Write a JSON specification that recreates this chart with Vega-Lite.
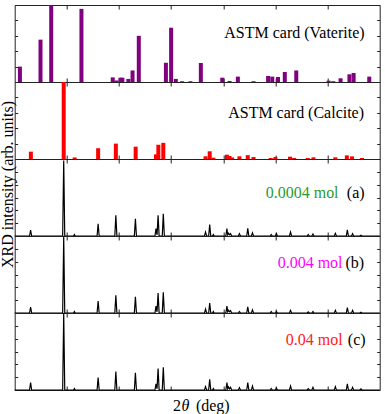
{
  "$schema": "https://vega.github.io/schema/vega-lite/v6.json",
  "background": "white",
  "padding": {"left": -1.3, "top": 1, "right": 0, "bottom": 0},
  "spacing": 0,
  "bounds": "flush",
  "config": {
    "font": "Liberation Serif",
    "view": {"stroke": "#222", "strokeWidth": 1},
    "axis": {"domain": false, "grid": false, "labels": false, "ticks": true, "tickColor": "#222", "tickWidth": 1},
    "axisX": {"tickSize": -4},
    "axisY": {"tickSize": -3},
    "scale": {"continuousPadding": 0},
    "text": {"font": "Liberation Serif"}
  },
  "datasets": {
    "vaterite": [
      {"two_theta": 21.0, "intensity": 20}, {"two_theta": 24.95, "intensity": 55}, {"two_theta": 27.0, "intensity": 100},
      {"two_theta": 32.8, "intensity": 95}, {"two_theta": 38.8, "intensity": 6}, {"two_theta": 39.5, "intensity": 2},
      {"two_theta": 40.3, "intensity": 5.6}, {"two_theta": 40.65, "intensity": 5.6}, {"two_theta": 41.8, "intensity": 4},
      {"two_theta": 42.6, "intensity": 15}, {"two_theta": 43.8, "intensity": 60}, {"two_theta": 49.0, "intensity": 25},
      {"two_theta": 50.0, "intensity": 70.5}, {"two_theta": 50.9, "intensity": 4}, {"two_theta": 52.1, "intensity": 1},
      {"two_theta": 53.7, "intensity": 1}, {"two_theta": 55.7, "intensity": 24.7}, {"two_theta": 59.8, "intensity": 5.6},
      {"two_theta": 61.2, "intensity": 1.3}, {"two_theta": 62.8, "intensity": 7}, {"two_theta": 65.8, "intensity": 1},
      {"two_theta": 68.6, "intensity": 7.8}, {"two_theta": 69.4, "intensity": 7}, {"two_theta": 70.5, "intensity": 6.5},
      {"two_theta": 71.8, "intensity": 13}, {"two_theta": 74.0, "intensity": 15}, {"two_theta": 80.2, "intensity": 1.7},
      {"two_theta": 81.1, "intensity": 1}, {"two_theta": 82.5, "intensity": 4.8}, {"two_theta": 84.2, "intensity": 10},
      {"two_theta": 85.0, "intensity": 11.7}, {"two_theta": 88.0, "intensity": 7}
    ],
    "calcite": [
      {"two_theta": 23.1, "intensity": 9.5}, {"two_theta": 29.4, "intensity": 100}, {"two_theta": 31.5, "intensity": 2},
      {"two_theta": 36.0, "intensity": 14}, {"two_theta": 39.4, "intensity": 20}, {"two_theta": 43.2, "intensity": 16},
      {"two_theta": 47.1, "intensity": 6}, {"two_theta": 47.55, "intensity": 18.5}, {"two_theta": 48.5, "intensity": 21},
      {"two_theta": 56.6, "intensity": 3.5}, {"two_theta": 57.4, "intensity": 10}, {"two_theta": 58.1, "intensity": 1.7},
      {"two_theta": 60.7, "intensity": 5.6}, {"two_theta": 61.2, "intensity": 3.9}, {"two_theta": 61.7, "intensity": 2},
      {"two_theta": 63.1, "intensity": 3.5}, {"two_theta": 64.7, "intensity": 5}, {"two_theta": 65.8, "intensity": 2.6},
      {"two_theta": 69.1, "intensity": 1.3}, {"two_theta": 70.0, "intensity": 2.6}, {"two_theta": 72.8, "intensity": 3},
      {"two_theta": 73.6, "intensity": 1.3}, {"two_theta": 76.2, "intensity": 1.3}, {"two_theta": 77.3, "intensity": 2.2},
      {"two_theta": 81.5, "intensity": 2.2}, {"two_theta": 83.7, "intensity": 4.7}, {"two_theta": 84.7, "intensity": 3.4},
      {"two_theta": 86.6, "intensity": 1.3}
    ],
    "sample_a": [
      {"two_theta": 20, "intensity": 0},
      {"two_theta": 22.85, "intensity": 0}, {"two_theta": 23.05, "intensity": 7.8}, {"two_theta": 23.25, "intensity": 0},
      {"two_theta": 29.2, "intensity": 0}, {"two_theta": 29.4, "intensity": 98}, {"two_theta": 29.6, "intensity": 0},
      {"two_theta": 31.3, "intensity": 0}, {"two_theta": 31.45, "intensity": 2}, {"two_theta": 31.6, "intensity": 0},
      {"two_theta": 35.8, "intensity": 0}, {"two_theta": 36.0, "intensity": 16}, {"two_theta": 36.2, "intensity": 0},
      {"two_theta": 39.2, "intensity": 0}, {"two_theta": 39.4, "intensity": 27}, {"two_theta": 39.6, "intensity": 0},
      {"two_theta": 42.95, "intensity": 0}, {"two_theta": 43.15, "intensity": 22.5}, {"two_theta": 43.35, "intensity": 0},
      {"two_theta": 46.9, "intensity": 0}, {"two_theta": 47.1, "intensity": 9.5}, {"two_theta": 47.3, "intensity": 1.5},
      {"two_theta": 47.5, "intensity": 27}, {"two_theta": 47.7, "intensity": 0},
      {"two_theta": 48.3, "intensity": 0}, {"two_theta": 48.5, "intensity": 29}, {"two_theta": 48.7, "intensity": 0},
      {"two_theta": 56.4, "intensity": 0}, {"two_theta": 56.6, "intensity": 5}, {"two_theta": 56.8, "intensity": 0},
      {"two_theta": 57.2, "intensity": 0}, {"two_theta": 57.4, "intensity": 15}, {"two_theta": 57.6, "intensity": 0},
      {"two_theta": 57.95, "intensity": 0}, {"two_theta": 58.1, "intensity": 2}, {"two_theta": 58.25, "intensity": 0},
      {"two_theta": 60.5, "intensity": 0}, {"two_theta": 60.7, "intensity": 9.5}, {"two_theta": 60.85, "intensity": 1.5},
      {"two_theta": 61.0, "intensity": 3.5}, {"two_theta": 61.2, "intensity": 1.5}, {"two_theta": 61.4, "intensity": 3},
      {"two_theta": 61.6, "intensity": 0},
      {"two_theta": 62.9, "intensity": 0}, {"two_theta": 63.1, "intensity": 3}, {"two_theta": 63.3, "intensity": 0},
      {"two_theta": 64.5, "intensity": 0}, {"two_theta": 64.7, "intensity": 10}, {"two_theta": 64.9, "intensity": 0},
      {"two_theta": 65.4, "intensity": 0}, {"two_theta": 65.6, "intensity": 4}, {"two_theta": 65.8, "intensity": 0},
      {"two_theta": 69.0, "intensity": 0}, {"two_theta": 69.2, "intensity": 2}, {"two_theta": 69.4, "intensity": 0},
      {"two_theta": 70.0, "intensity": 0}, {"two_theta": 70.2, "intensity": 3}, {"two_theta": 70.4, "intensity": 0},
      {"two_theta": 72.7, "intensity": 0}, {"two_theta": 72.9, "intensity": 5}, {"two_theta": 73.1, "intensity": 0},
      {"two_theta": 76.1, "intensity": 0}, {"two_theta": 76.3, "intensity": 2}, {"two_theta": 76.5, "intensity": 0},
      {"two_theta": 77.0, "intensity": 0}, {"two_theta": 77.2, "intensity": 2.5}, {"two_theta": 77.4, "intensity": 0},
      {"two_theta": 81.3, "intensity": 0}, {"two_theta": 81.5, "intensity": 3.5}, {"two_theta": 81.7, "intensity": 0},
      {"two_theta": 83.6, "intensity": 0}, {"two_theta": 83.8, "intensity": 8}, {"two_theta": 84.0, "intensity": 0},
      {"two_theta": 84.6, "intensity": 0}, {"two_theta": 84.8, "intensity": 3}, {"two_theta": 85.0, "intensity": 0},
      {"two_theta": 86.2, "intensity": 0}, {"two_theta": 86.4, "intensity": 1}, {"two_theta": 86.6, "intensity": 0},
      {"two_theta": 90, "intensity": 0}
    ],
    "sample_b": [
      {"two_theta": 20, "intensity": 0},
      {"two_theta": 22.85, "intensity": 0}, {"two_theta": 23.05, "intensity": 7.8}, {"two_theta": 23.25, "intensity": 0},
      {"two_theta": 29.2, "intensity": 0}, {"two_theta": 29.4, "intensity": 99}, {"two_theta": 29.6, "intensity": 0},
      {"two_theta": 31.3, "intensity": 0}, {"two_theta": 31.45, "intensity": 2}, {"two_theta": 31.6, "intensity": 0},
      {"two_theta": 35.8, "intensity": 0}, {"two_theta": 36.0, "intensity": 15.6}, {"two_theta": 36.2, "intensity": 0},
      {"two_theta": 39.2, "intensity": 0}, {"two_theta": 39.4, "intensity": 23}, {"two_theta": 39.6, "intensity": 0},
      {"two_theta": 42.95, "intensity": 0}, {"two_theta": 43.15, "intensity": 21}, {"two_theta": 43.35, "intensity": 0},
      {"two_theta": 46.9, "intensity": 0}, {"two_theta": 47.1, "intensity": 9}, {"two_theta": 47.3, "intensity": 1.5},
      {"two_theta": 47.5, "intensity": 26}, {"two_theta": 47.7, "intensity": 0},
      {"two_theta": 48.3, "intensity": 0}, {"two_theta": 48.5, "intensity": 27}, {"two_theta": 48.7, "intensity": 0},
      {"two_theta": 56.4, "intensity": 0}, {"two_theta": 56.6, "intensity": 5}, {"two_theta": 56.8, "intensity": 0},
      {"two_theta": 57.2, "intensity": 0}, {"two_theta": 57.4, "intensity": 13}, {"two_theta": 57.6, "intensity": 0},
      {"two_theta": 57.95, "intensity": 0}, {"two_theta": 58.1, "intensity": 2}, {"two_theta": 58.25, "intensity": 0},
      {"two_theta": 60.5, "intensity": 0}, {"two_theta": 60.7, "intensity": 9}, {"two_theta": 60.85, "intensity": 1.5},
      {"two_theta": 61.0, "intensity": 3.5}, {"two_theta": 61.2, "intensity": 1.5}, {"two_theta": 61.4, "intensity": 3},
      {"two_theta": 61.6, "intensity": 0},
      {"two_theta": 62.9, "intensity": 0}, {"two_theta": 63.1, "intensity": 2}, {"two_theta": 63.3, "intensity": 0},
      {"two_theta": 64.5, "intensity": 0}, {"two_theta": 64.7, "intensity": 8}, {"two_theta": 64.9, "intensity": 0},
      {"two_theta": 65.4, "intensity": 0}, {"two_theta": 65.6, "intensity": 4}, {"two_theta": 65.8, "intensity": 0},
      {"two_theta": 69.0, "intensity": 0}, {"two_theta": 69.2, "intensity": 2}, {"two_theta": 69.4, "intensity": 0},
      {"two_theta": 70.0, "intensity": 0}, {"two_theta": 70.2, "intensity": 2}, {"two_theta": 70.4, "intensity": 0},
      {"two_theta": 72.7, "intensity": 0}, {"two_theta": 72.9, "intensity": 3.5}, {"two_theta": 73.1, "intensity": 0},
      {"two_theta": 76.1, "intensity": 0}, {"two_theta": 76.3, "intensity": 1.5}, {"two_theta": 76.5, "intensity": 0},
      {"two_theta": 77.0, "intensity": 0}, {"two_theta": 77.2, "intensity": 2}, {"two_theta": 77.4, "intensity": 0},
      {"two_theta": 81.3, "intensity": 0}, {"two_theta": 81.5, "intensity": 3.5}, {"two_theta": 81.7, "intensity": 0},
      {"two_theta": 83.6, "intensity": 0}, {"two_theta": 83.8, "intensity": 7}, {"two_theta": 84.0, "intensity": 0},
      {"two_theta": 84.6, "intensity": 0}, {"two_theta": 84.8, "intensity": 3.5}, {"two_theta": 85.0, "intensity": 0},
      {"two_theta": 86.2, "intensity": 0}, {"two_theta": 86.4, "intensity": 1}, {"two_theta": 86.6, "intensity": 0},
      {"two_theta": 90, "intensity": 0}
    ],
    "sample_c": [
      {"two_theta": 20, "intensity": 0},
      {"two_theta": 22.85, "intensity": 0}, {"two_theta": 23.05, "intensity": 9.5}, {"two_theta": 23.25, "intensity": 0},
      {"two_theta": 29.2, "intensity": 0}, {"two_theta": 29.4, "intensity": 100}, {"two_theta": 29.6, "intensity": 0},
      {"two_theta": 31.3, "intensity": 0}, {"two_theta": 31.45, "intensity": 2}, {"two_theta": 31.6, "intensity": 0},
      {"two_theta": 35.8, "intensity": 0}, {"two_theta": 36.0, "intensity": 16}, {"two_theta": 36.2, "intensity": 0},
      {"two_theta": 39.2, "intensity": 0}, {"two_theta": 39.4, "intensity": 24}, {"two_theta": 39.6, "intensity": 0},
      {"two_theta": 42.95, "intensity": 0}, {"two_theta": 43.15, "intensity": 22.5}, {"two_theta": 43.35, "intensity": 0},
      {"two_theta": 46.9, "intensity": 0}, {"two_theta": 47.1, "intensity": 8}, {"two_theta": 47.3, "intensity": 1.5},
      {"two_theta": 47.5, "intensity": 28}, {"two_theta": 47.7, "intensity": 0},
      {"two_theta": 48.3, "intensity": 0}, {"two_theta": 48.5, "intensity": 29.5}, {"two_theta": 48.7, "intensity": 0},
      {"two_theta": 56.4, "intensity": 0}, {"two_theta": 56.6, "intensity": 4.3}, {"two_theta": 56.8, "intensity": 0},
      {"two_theta": 57.2, "intensity": 0}, {"two_theta": 57.4, "intensity": 14}, {"two_theta": 57.6, "intensity": 0},
      {"two_theta": 57.95, "intensity": 0}, {"two_theta": 58.1, "intensity": 2}, {"two_theta": 58.25, "intensity": 0},
      {"two_theta": 60.5, "intensity": 0}, {"two_theta": 60.7, "intensity": 9.5}, {"two_theta": 60.85, "intensity": 1.5},
      {"two_theta": 61.0, "intensity": 4}, {"two_theta": 61.2, "intensity": 1.5}, {"two_theta": 61.4, "intensity": 3.5},
      {"two_theta": 61.6, "intensity": 0},
      {"two_theta": 62.9, "intensity": 0}, {"two_theta": 63.1, "intensity": 3}, {"two_theta": 63.3, "intensity": 0},
      {"two_theta": 64.5, "intensity": 0}, {"two_theta": 64.7, "intensity": 9.5}, {"two_theta": 64.9, "intensity": 0},
      {"two_theta": 65.4, "intensity": 0}, {"two_theta": 65.6, "intensity": 5}, {"two_theta": 65.8, "intensity": 0},
      {"two_theta": 69.0, "intensity": 0}, {"two_theta": 69.2, "intensity": 2}, {"two_theta": 69.4, "intensity": 0},
      {"two_theta": 70.0, "intensity": 0}, {"two_theta": 70.2, "intensity": 2.3}, {"two_theta": 70.4, "intensity": 0},
      {"two_theta": 72.7, "intensity": 0}, {"two_theta": 72.9, "intensity": 5}, {"two_theta": 73.1, "intensity": 0},
      {"two_theta": 76.1, "intensity": 0}, {"two_theta": 76.3, "intensity": 1.7}, {"two_theta": 76.5, "intensity": 0},
      {"two_theta": 77.0, "intensity": 0}, {"two_theta": 77.2, "intensity": 3.5}, {"two_theta": 77.4, "intensity": 0},
      {"two_theta": 81.3, "intensity": 0}, {"two_theta": 81.5, "intensity": 4.3}, {"two_theta": 81.7, "intensity": 0},
      {"two_theta": 83.6, "intensity": 0}, {"two_theta": 83.8, "intensity": 8}, {"two_theta": 84.0, "intensity": 0},
      {"two_theta": 84.6, "intensity": 0}, {"two_theta": 84.8, "intensity": 3.5}, {"two_theta": 85.0, "intensity": 0},
      {"two_theta": 86.2, "intensity": 0}, {"two_theta": 86.4, "intensity": 1.5}, {"two_theta": 86.6, "intensity": 0},
      {"two_theta": 90, "intensity": 0}
    ]
  },
  "vconcat": [
    {
      "width": 365, "height": 77,
      "data": {"name": "vaterite"},
      "layer": [
        {
          "mark": {"type": "bar", "size": 4, "color": "#800080"},
          "encoding": {
            "x": {"field": "two_theta", "type": "quantitative", "scale": {"domain": [20, 90], "nice": false, "padding": 0}, "axis": {"values": [30, 40, 50, 60, 70, 80], "title": null}},
            "y": {"field": "intensity", "type": "quantitative", "stack": null, "scale": {"domain": [0, 100], "nice": false, "padding": 0}, "axis": {"values": [0, 20, 40, 60, 80, 100], "title": null}}
          }
        },
        {
          "mark": {"type": "point", "opacity": 0},
          "encoding": {
            "x": {"field": "two_theta", "type": "quantitative", "axis": {"orient": "top", "values": [30, 40, 50, 60, 70, 80], "title": null}},
            "y": {"field": "intensity", "type": "quantitative", "axis": {"orient": "right", "values": [0, 20, 40, 60, 80, 100], "title": null}}
          }
        },
        {
          "data": {"values": [{"label": "ASTM card (Vaterite)"}]},
          "mark": {"type": "text", "align": "right", "baseline": "alphabetic", "fontSize": 16, "color": "black"},
          "encoding": {
            "x": {"datum": 87.1, "type": "quantitative", "axis": null},
            "y": {"datum": 57.5, "type": "quantitative", "axis": null},
            "text": {"field": "label"}
          }
        }
      ],
      "resolve": {"axis": {"x": "independent", "y": "independent"}}
    },
    {
      "width": 365, "height": 77,
      "data": {"name": "calcite"},
      "layer": [
        {
          "mark": {"type": "bar", "size": 4, "color": "#ff0000"},
          "encoding": {
            "x": {"field": "two_theta", "type": "quantitative", "scale": {"domain": [20, 90], "nice": false, "padding": 0}, "axis": {"values": [30, 40, 50, 60, 70, 80], "title": null}},
            "y": {"field": "intensity", "type": "quantitative", "stack": null, "scale": {"domain": [0, 100], "nice": false, "padding": 0}, "axis": {"values": [0, 20, 40, 60, 80, 100], "title": null}}
          }
        },
        {
          "mark": {"type": "point", "opacity": 0},
          "encoding": {
            "x": {"field": "two_theta", "type": "quantitative", "axis": {"orient": "top", "values": [30, 40, 50, 60, 70, 80], "title": null}},
            "y": {"field": "intensity", "type": "quantitative", "axis": {"orient": "right", "values": [0, 20, 40, 60, 80, 100], "title": null}}
          }
        },
        {
          "data": {"values": [{"label": "ASTM card (Calcite)"}]},
          "mark": {"type": "text", "align": "right", "baseline": "alphabetic", "fontSize": 16, "color": "black"},
          "encoding": {
            "x": {"datum": 87.0, "type": "quantitative", "axis": null},
            "y": {"datum": 53.6, "type": "quantitative", "axis": null},
            "text": {"field": "label"}
          }
        }
      ],
      "resolve": {"axis": {"x": "independent", "y": "independent"}}
    },
    {
      "width": 365, "height": 77,
      "data": {"name": "sample_a"},
      "layer": [
        {
          "mark": {"type": "line", "color": "black", "strokeWidth": 1.2},
          "encoding": {
            "x": {"field": "two_theta", "type": "quantitative", "scale": {"domain": [20, 90], "nice": false}, "axis": {"values": [30, 40, 50, 60, 70, 80], "title": null}},
            "y": {"field": "intensity", "type": "quantitative", "scale": {"domain": [0, 100], "nice": false},
                  "axis": {"values": [0, 16.67, 33.33, 50, 66.67, 83.33, 100],
                           "title": "XRD intensity (arb. units)", "titleFont": "Liberation Serif", "titleFontSize": 16,
                           "titleFontWeight": "normal", "titleColor": "black", "titleAngle": -90,
                           "titleAlign": "center", "titleBaseline": "alphabetic", "titleX": -1.8, "titleY": 25}}
          }
        },
        {
          "mark": {"type": "point", "opacity": 0},
          "encoding": {
            "x": {"field": "two_theta", "type": "quantitative", "axis": {"orient": "top", "values": [30, 40, 50, 60, 70, 80], "title": null}},
            "y": {"field": "intensity", "type": "quantitative", "axis": {"orient": "right", "values": [0, 16.67, 33.33, 50, 66.67, 83.33, 100], "title": null}}
          }
        },
        {
          "data": {"values": [{"label": "0.0004 mol"}]},
          "mark": {"type": "text", "align": "right", "baseline": "alphabetic", "fontSize": 16, "color": "#2e9a2e", "dx": -26},
          "encoding": {
            "x": {"datum": 87.1, "type": "quantitative", "axis": null},
            "y": {"datum": 49, "type": "quantitative", "axis": null},
            "text": {"field": "label"}
          }
        },
        {
          "data": {"values": [{"label": "(a)"}]},
          "mark": {"type": "text", "align": "right", "baseline": "alphabetic", "fontSize": 16, "color": "black"},
          "encoding": {
            "x": {"datum": 87.1, "type": "quantitative", "axis": null},
            "y": {"datum": 49, "type": "quantitative", "axis": null},
            "text": {"field": "label"}
          }
        }
      ],
      "resolve": {"axis": {"x": "independent", "y": "independent"}}
    },
    {
      "width": 365, "height": 77,
      "data": {"name": "sample_b"},
      "layer": [
        {
          "mark": {"type": "line", "color": "black", "strokeWidth": 1.2},
          "encoding": {
            "x": {"field": "two_theta", "type": "quantitative", "scale": {"domain": [20, 90], "nice": false}, "axis": {"values": [30, 40, 50, 60, 70, 80], "title": null}},
            "y": {"field": "intensity", "type": "quantitative", "scale": {"domain": [0, 100], "nice": false}, "axis": {"values": [0, 16.67, 33.33, 50, 66.67, 83.33, 100], "title": null}}
          }
        },
        {
          "mark": {"type": "point", "opacity": 0},
          "encoding": {
            "x": {"field": "two_theta", "type": "quantitative", "axis": {"orient": "top", "values": [30, 40, 50, 60, 70, 80], "title": null}},
            "y": {"field": "intensity", "type": "quantitative", "axis": {"orient": "right", "values": [0, 16.67, 33.33, 50, 66.67, 83.33, 100], "title": null}}
          }
        },
        {
          "data": {"values": [{"label": "0.004 mol"}]},
          "mark": {"type": "text", "align": "right", "baseline": "alphabetic", "fontSize": 16, "color": "#ff00ff", "dx": -21.5},
          "encoding": {
            "x": {"datum": 87.0, "type": "quantitative", "axis": null},
            "y": {"datum": 58, "type": "quantitative", "axis": null},
            "text": {"field": "label"}
          }
        },
        {
          "data": {"values": [{"label": "(b)"}]},
          "mark": {"type": "text", "align": "right", "baseline": "alphabetic", "fontSize": 16, "color": "black"},
          "encoding": {
            "x": {"datum": 87.0, "type": "quantitative", "axis": null},
            "y": {"datum": 58, "type": "quantitative", "axis": null},
            "text": {"field": "label"}
          }
        }
      ],
      "resolve": {"axis": {"x": "independent", "y": "independent"}}
    },
    {
      "width": 365, "height": 77,
      "data": {"name": "sample_c"},
      "layer": [
        {
          "mark": {"type": "line", "color": "black", "strokeWidth": 1.2},
          "encoding": {
            "x": {"field": "two_theta", "type": "quantitative", "scale": {"domain": [20, 90], "nice": false}, "axis": {"values": [30, 40, 50, 60, 70, 80], "title": null}},
            "y": {"field": "intensity", "type": "quantitative", "scale": {"domain": [0, 100], "nice": false}, "axis": {"values": [0, 16.67, 33.33, 50, 66.67, 83.33, 100], "title": null}}
          }
        },
        {
          "mark": {"type": "point", "opacity": 0},
          "encoding": {
            "x": {"field": "two_theta", "type": "quantitative", "axis": {"orient": "top", "values": [30, 40, 50, 60, 70, 80], "title": null}},
            "y": {"field": "intensity", "type": "quantitative", "axis": {"orient": "right", "values": [0, 16.67, 33.33, 50, 66.67, 83.33, 100], "title": null}}
          }
        },
        {
          "data": {"values": [{"label": "0.04 mol"}]},
          "mark": {"type": "text", "align": "right", "baseline": "alphabetic", "fontSize": 16, "color": "#ff2020", "dx": -23},
          "encoding": {
            "x": {"datum": 87.3, "type": "quantitative", "axis": null},
            "y": {"datum": 59, "type": "quantitative", "axis": null},
            "text": {"field": "label"}
          }
        },
        {
          "data": {"values": [{"label": "(c)"}]},
          "mark": {"type": "text", "align": "right", "baseline": "alphabetic", "fontSize": 16, "color": "black"},
          "encoding": {
            "x": {"datum": 87.3, "type": "quantitative", "axis": null},
            "y": {"datum": 59, "type": "quantitative", "axis": null},
            "text": {"field": "label"}
          }
        },
        {
          "data": {"values": [{"label": "2"}]},
          "mark": {"type": "text", "align": "left", "baseline": "alphabetic", "fontSize": 16, "color": "black", "dx": -24.1},
          "encoding": {
            "x": {"datum": 55, "type": "quantitative", "axis": null},
            "y": {"datum": -27.3, "type": "quantitative", "axis": null},
            "text": {"field": "label"}
          }
        },
        {
          "data": {"values": [{"label": "θ"}]},
          "mark": {"type": "text", "align": "left", "baseline": "alphabetic", "fontSize": 16, "fontStyle": "italic", "color": "black", "dx": -15.8},
          "encoding": {
            "x": {"datum": 55, "type": "quantitative", "axis": null},
            "y": {"datum": -27.3, "type": "quantitative", "axis": null},
            "text": {"field": "label"}
          }
        },
        {
          "data": {"values": [{"label": "(deg)"}]},
          "mark": {"type": "text", "align": "left", "baseline": "alphabetic", "fontSize": 16, "color": "black", "dx": -1.3},
          "encoding": {
            "x": {"datum": 55, "type": "quantitative", "axis": null},
            "y": {"datum": -27.3, "type": "quantitative", "axis": null},
            "text": {"field": "label"}
          }
        }
      ],
      "resolve": {"axis": {"x": "independent", "y": "independent"}}
    }
  ]
}
